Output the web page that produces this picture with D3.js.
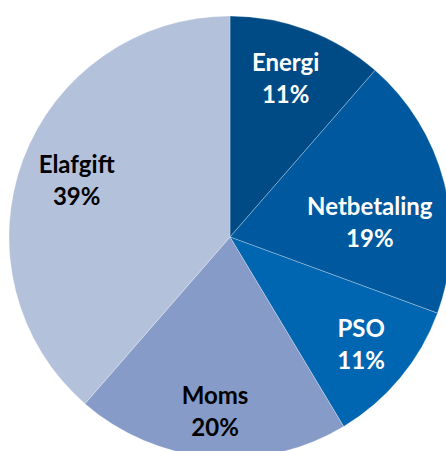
<!DOCTYPE html>
<html>
<head>
<meta charset="utf-8">
<script src="https://cdn.jsdelivr.net/npm/d3@7"></script>
<style>
  html, body { margin: 0; padding: 0; background: #fff; }
  svg text { font-family: Lato, "Open Sans", sans-serif; font-weight: bold; }
</style>
</head>
<body>
<div class="chart"></div>
<script>
// slice data, clockwise from 12 o'clock
var categories = ["Energi", "Netbetaling", "PSO", "Moms", "Elafgift"];
var values = [11.4, 19.2, 10.8, 20.0, 38.6];
var percentLabels = ["11%", "19%", "11%", "20%", "39%"];
var colors = ["#004b85", "#00589e", "#0066b2", "#869bc7", "#b4c1db"];
var textColors = ["#fff", "#fff", "#fff", "#000", "#000"];

var width = 446, height = 451;
var cx = 230, cy = 237, radius = 221;

var svg = d3.select(".chart").append("svg")
    .attr("width", width)
    .attr("height", height)
  .append("g")
    .attr("transform", "translate(" + cx + "," + cy + ")");

var slices = categories.map((c, i) => ({name: c, value: values[i], label: percentLabels[i], i: i}));

var pie = d3.pie().sort(null).value((d) => d.value);
var arc = d3.arc().innerRadius(0).outerRadius(radius);
var labelArc = d3.arc().innerRadius(radius * 0.54).outerRadius(radius);

var arcs = pie(slices);

svg.selectAll("path.slice")
    .data(arcs)
  .enter().append("path")
    .attr("class", "slice")
    .attr("d", arc)
    .attr("fill", (d) => colors[d.data.i])
    .attr("stroke", "rgba(255,255,255,0.45)")
    .attr("stroke-width", 0.6);

// labels that sit off their centroid, pulled in like Excel does
var nudge = {Netbetaling: [-25, 28], Elafgift: [6, 4], Energi: [-4, 1], Moms: [0, 5]};

var label = svg.selectAll("g.label")
    .data(arcs)
  .enter().append("g")
    .attr("class", "label")
    .attr("transform", (d) => {
      var c = labelArc.centroid(d);
      var n = nudge[d.data.name] || [0, 0];
      return "translate(" + (c[0] + n[0]) + "," + (c[1] + n[1]) + ")";
    });

label.append("text")
    .attr("text-anchor", "middle")
    .attr("y", -8)
    .style("font-size", "24px")
    .attr("fill", (d) => textColors[d.data.i])
    .text((d) => d.data.name);

label.append("text")
    .attr("text-anchor", "middle")
    .attr("y", 24)
    .style("font-size", "24px")
    .attr("fill", (d) => textColors[d.data.i])
    .text((d) => d.data.label);
</script>
</body>
</html>
